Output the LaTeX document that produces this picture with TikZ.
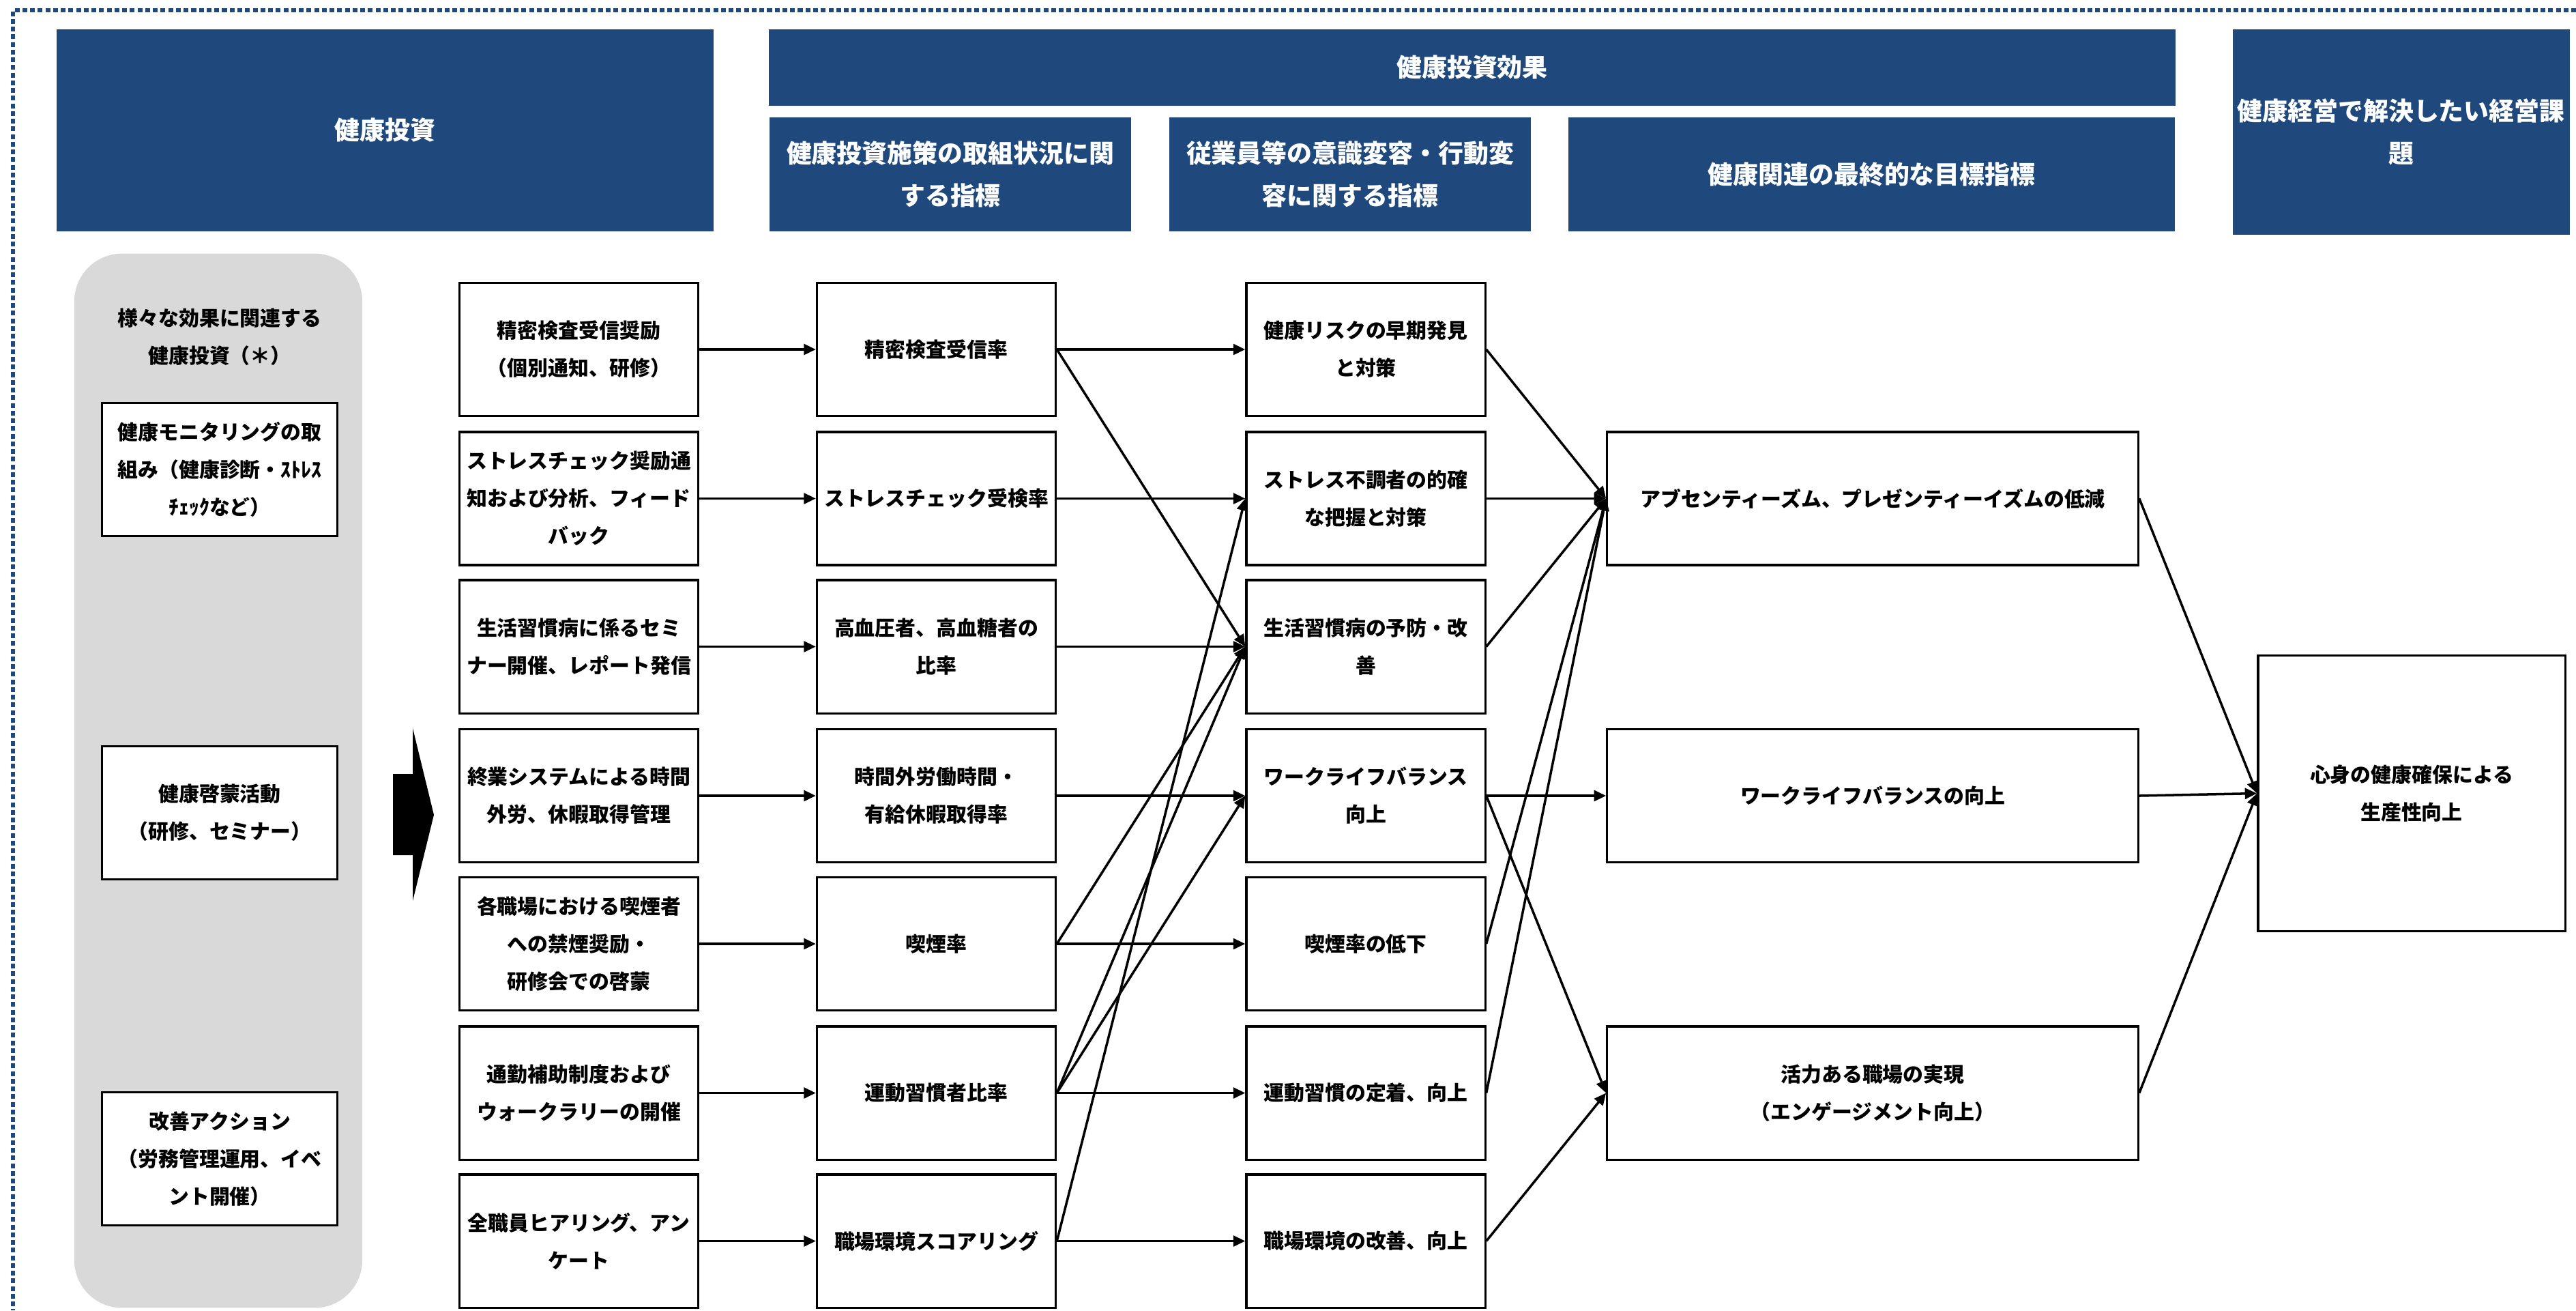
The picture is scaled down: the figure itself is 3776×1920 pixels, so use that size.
\documentclass[tikz,border=0pt]{standalone}
\usepackage{fontspec}
\setmainfont{Noto Sans CJK JP}
\definecolor{navyhead}{RGB}{31,73,125}
\definecolor{panelgray}{RGB}{217,217,217}
\usepackage{tikz}
\usetikzlibrary{arrows.meta, positioning}

\begin{document}
\begin{tikzpicture}[x=0.01cm, y=-0.01cm,
  box/.style={rectangle, draw=black, line width=0.9pt, fill=white, minimum height=1.95cm, minimum width=3.5cm, align=center, inner sep=2pt, font=\fontsize{8.5}{15.6}\selectfont\bfseries},
  hdr/.style={rectangle, fill=navyhead, text=white, align=center, inner sep=2pt, font=\fontsize{10.5}{17.6}\selectfont\bfseries},
  arrow/.style={-{Triangle[length=5pt, width=4.5pt]}, line width=1pt}
]
\useasboundingbox (0,0) rectangle (3776,1920);

\draw[navyhead, line width=1.6pt, dash pattern=on 2pt off 1.2pt] (3776,15) -- (19,15) -- (19,1920);

\node[hdr, minimum width=9.63cm, minimum height=2.96cm] (H) at (564.5,191) {健康投資};
\node[hdr, minimum width=20.6cm, minimum height=1.12cm] (E) at (2158,99) {健康投資効果};
\node[hdr, minimum width=5.3cm, minimum height=1.67cm] (E1) at (1393,255.5) {健康投資施策の取組状況に関\\する指標};
\node[hdr, minimum width=5.3cm, minimum height=1.67cm] (E2) at (1979,255.5) {従業員等の意識変容・行動変\\容に関する指標};
\node[hdr, minimum width=8.89cm, minimum height=1.67cm] (E3) at (2743.5,255.5) {健康関連の最終的な目標指標};
\node[hdr, minimum width=4.93cm, minimum height=3.01cm] (K) at (3519.5,193.5) {健康経営で解決したい経営課\\題};

\node[rectangle, fill=panelgray, rounded corners=0.7cm, minimum width=4.22cm, minimum height=15.44cm] (G) at (320,1144) {};
\node[align=center, font=\fontsize{8.5}{15.6}\selectfont\bfseries] (T) at (322,494) {様々な効果に関連する\\健康投資（＊）};
\node[box, minimum width=3.44cm] (L1) at (322,688) {健康モニタリングの取\\組み（健康診断・ｽﾄﾚｽ\\ﾁｪｯｸなど）};
\node[box, minimum width=3.44cm] (L2) at (322,1191) {健康啓蒙活動\\（研修、セミナー）};
\node[box, minimum width=3.44cm] (L3) at (322,1698) {改善アクション\\（労務管理運用、イベ\\ント開催）};

\fill (576,1134) -- (605,1134) -- (605,1067) -- (636,1194) -- (605,1320) -- (605,1253) -- (576,1253) -- cycle;

\node[box] (a1) at (848.5,512) {精密検査受信奨励\\（個別通知、研修）};
\node[box] (a2) at (848.5,730.5) {ストレスチェック奨励通\\知および分析、フィード\\バック};
\node[box] (a3) at (848.5,947.5) {生活習慣病に係るセミ\\ナー開催、レポート発信};
\node[box] (a4) at (848.5,1166) {終業システムによる時間\\外労、休暇取得管理};
\node[box] (a5) at (848.5,1383) {各職場における喫煙者\\への禁煙奨励・\\研修会での啓蒙};
\node[box] (a6) at (848.5,1601.5) {通勤補助制度および\\ウォークラリーの開催};
\node[box] (a7) at (848.5,1818.5) {全職員ヒアリング、アン\\ケート};

\node[box] (b1) at (1372.5,512) {精密検査受信率};
\node[box] (b2) at (1372.5,730.5) {ストレスチェック受検率};
\node[box] (b3) at (1372.5,947.5) {高血圧者、高血糖者の\\比率};
\node[box] (b4) at (1372.5,1166) {時間外労働時間・\\有給休暇取得率};
\node[box] (b5) at (1372.5,1383) {喫煙率};
\node[box] (b6) at (1372.5,1601.5) {運動習慣者比率};
\node[box] (b7) at (1372.5,1818.5) {職場環境スコアリング};

\node[box] (c1) at (2002,512) {健康リスクの早期発見\\と対策};
\node[box] (c2) at (2002,730.5) {ストレス不調者の的確\\な把握と対策};
\node[box] (c3) at (2002,947.5) {生活習慣病の予防・改\\善};
\node[box] (c4) at (2002,1166) {ワークライフバランス\\向上};
\node[box] (c5) at (2002,1383) {喫煙率の低下};
\node[box] (c6) at (2002,1601.5) {運動習慣の定着、向上};
\node[box] (c7) at (2002,1818.5) {職場環境の改善、向上};

\node[box, minimum width=7.78cm] (d1) at (2745,730.5) {アブセンティーズム、プレゼンティーイズムの低減};
\node[box, minimum width=7.78cm] (d2) at (2745,1166) {ワークライフバランスの向上};
\node[box, minimum width=7.78cm] (d3) at (2745,1601.5) {活力ある職場の実現\\（エンゲージメント向上）};

\node[box, minimum width=4.5cm, minimum height=4.03cm] (F) at (3535,1162.5) {心身の健康確保による\\生産性向上};

\draw[arrow] (a1) -- (b1);
\draw[arrow] (a2) -- (b2);
\draw[arrow] (a3) -- (b3);
\draw[arrow] (a4) -- (b4);
\draw[arrow] (a5) -- (b5);
\draw[arrow] (a6) -- (b6);
\draw[arrow] (a7) -- (b7);

\draw[arrow] (b1) -- (c1);
\draw[arrow] (b2) -- (c2);
\draw[arrow] (b3) -- (c3);
\draw[arrow] (b4) -- (c4);
\draw[arrow] (b5) -- (c5);
\draw[arrow] (b6) -- (c6);
\draw[arrow] (b7) -- (c7);
\draw[arrow] (b1.east) -- (c3.west);
\draw[arrow] (b5.east) -- (c3.west);
\draw[arrow] (b6.east) -- (c3.west);
\draw[arrow] (b6.east) -- (c4.west);
\draw[arrow] (b7.east) -- (c2.west);

\draw[arrow] (c1.east) -- (d1.west);
\draw[arrow] (c2.east) -- (d1.west);
\draw[arrow] (c3.east) -- (d1.west);
\draw[arrow] (c5.east) -- (d1.west);
\draw[arrow] (c6.east) -- (d1.west);
\draw[arrow] (c4.east) -- (d2.west);
\draw[arrow] (c4.east) -- (d3.west);
\draw[arrow] (c7.east) -- (d3.west);

\draw[arrow] (d1.east) -- (F.west);
\draw[arrow] (d2.east) -- (F.west);
\draw[arrow] (d3.east) -- (F.west);

\end{tikzpicture}
\end{document}
